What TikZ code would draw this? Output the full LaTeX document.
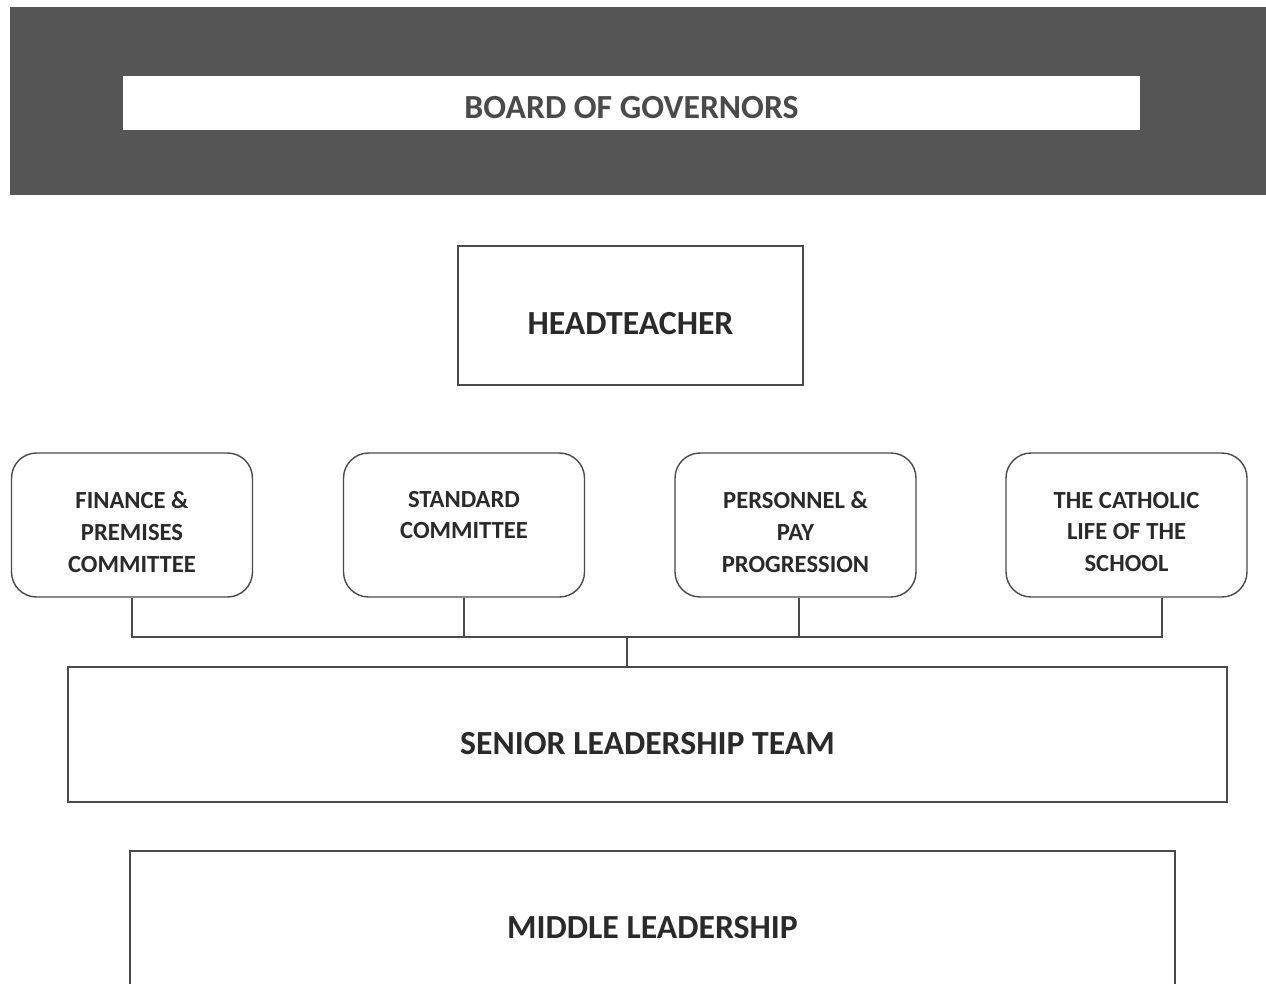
\documentclass[tikz,border=0pt]{standalone}
\usepackage{fontspec}
\setmainfont{Carlito}
\usepackage{tikz}
\usetikzlibrary{positioning, calc}

\definecolor{bandgray}{HTML}{555555}
\definecolor{linegray}{HTML}{4A4A4A}
\definecolor{txtgray}{HTML}{2A2A2A}

\tikzset{
  box/.style={draw=linegray, line width=0.8pt, fill=white, text=txtgray, align=center,
    font=\bfseries\fontsize{19.2}{23}\selectfont, text depth=0pt},
  committee/.style={box, rounded corners=0.5cm, minimum width=4.82cm, minimum height=2.88cm},
  ctext/.style={font=\bfseries\fontsize{14}{18.1}\selectfont, text=txtgray, align=center},
  link/.style={draw=linegray, line width=0.8pt}
}

\begin{document}
\begin{tikzpicture}[x=0.02cm, y=-0.02cm]
\useasboundingbox (0,0) rectangle (1266,983);

%the board
\node [fill=bandgray, minimum width=25.14cm, minimum height=3.78cm, inner sep=0pt] (band) at (638,101) {};
\node [box, draw=none, minimum width=20.34cm, minimum height=1.08cm, text=txtgray!85,
  text height=0.635cm] (board) at (631.5,103) {BOARD OF GOVERNORS};

%the headteacher
\node [box, minimum width=6.9cm, minimum height=2.78cm, text height=0.775cm] (head) at (630.5,315.5) {HEADTEACHER};

%the committees
\node [committee, label={[ctext, yshift=-0.14cm]center:FINANCE \&\\PREMISES\\COMMITTEE}] (fin) at (132,525) {};
\node [committee, label={[ctext, yshift=0.2cm]center:STANDARD\\COMMITTEE}] (std) at (464,525) {};
\node [committee, label={[ctext, yshift=-0.14cm]center:PERSONNEL \&\\PAY\\PROGRESSION}] (pers) at (795.5,525) {};
\node [committee, label={[ctext, yshift=-0.14cm]center:THE CATHOLIC\\LIFE OF THE\\SCHOOL}] (cath) at (1126.5,525) {};

%the leadership
\node [box, minimum width=23.18cm, minimum height=2.7cm, text height=0.815cm] (slt) at (647.5,734.5) {SENIOR LEADERSHIP TEAM};
\node [box, minimum width=20.9cm, minimum height=3.04cm] (mid) at (652.5,927) {MIDDLE LEADERSHIP};

%the links
\coordinate (bus) at (627,637);
\draw [link] (fin.south) |- (bus);
\draw [link] (std.south) -- (std.south |- bus);
\draw [link] ([xshift=0.07cm]pers.south) -- ([xshift=0.07cm]pers.south |- bus);
\draw [link] ([xshift=0.71cm]cath.south) |- (bus);
\draw [link] (bus) -- (slt.north -| bus);
\end{tikzpicture}
\end{document}
